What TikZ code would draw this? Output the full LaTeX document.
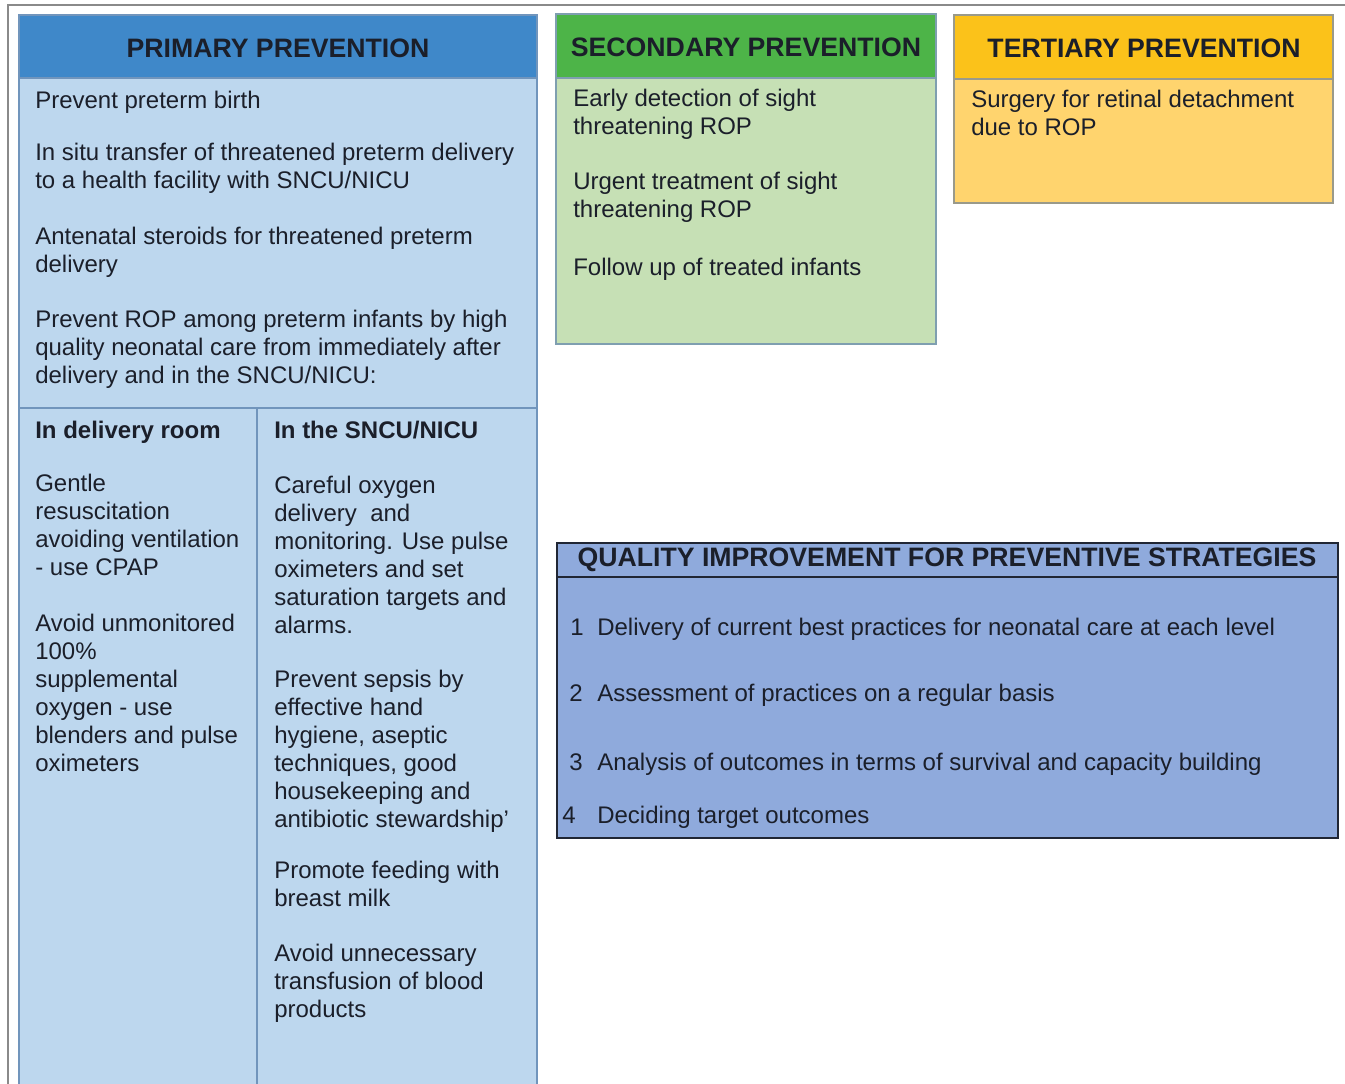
\documentclass[tikz,border=0pt]{standalone}
\usepackage{fontspec}
\setmainfont{Liberation Sans}
\begin{document}
\begin{tikzpicture}[x=0.75pt,y=-0.75pt,
  txt/.style={anchor=north west,yshift=14.7pt,inner sep=0pt,align=left,text=ink,
    font=\fontsize{18}{21}\selectfont,execute at begin node=\strut},
  hdr/.style={inner sep=0pt,text=ink,font=\fontsize{20}{24}\selectfont\bfseries},
  sub/.style={anchor=base west,inner sep=0pt,text=ink,font=\fontsize{18}{21}\selectfont\bfseries},
  panel/.style={line width=1.2pt}]
\definecolor{ink}{HTML}{1B1F2A}
\definecolor{priH}{HTML}{3F88C9}
\definecolor{priB}{HTML}{BDD7EE}
\definecolor{priL}{HTML}{7195BC}
\definecolor{secH}{HTML}{4DB448}
\definecolor{secB}{HTML}{C6E0B5}
\definecolor{secL}{HTML}{7F9FB0}
\definecolor{terH}{HTML}{FBC21A}
\definecolor{terB}{HTML}{FFD46E}
\definecolor{terL}{HTML}{9A9A8A}
\definecolor{quaB}{HTML}{8FAADC}
\definecolor{quaL}{HTML}{202634}
\definecolor{frame}{HTML}{8A8A8A}

\useasboundingbox (0,0) rectangle (1345,1084);
\fill[white] (0,0) rectangle (1345,1084);
% outer frame
\draw[frame,line width=0.8pt] (8,1090) -- (8,5) -- (1350,5);

% ---------- primary prevention ----------
\fill[priB] (19,78) rectangle (537,1090);
\fill[priH] (19,15) rectangle (537,78);
\draw[priL,panel] (19,1090) -- (19,15) -- (537,15) -- (537,1090);
\draw[priL,panel] (19,78) -- (537,78);
\draw[priL,panel] (19,408) -- (537,408);
\draw[priL,panel] (257,408) -- (257,1090);
\node[hdr] (priT) at (278,48) {PRIMARY PREVENTION};
\node[txt] (p1) at (35,108) {Prevent preterm birth};
\node[txt] (p2) at (35,162) {In situ transfer of threatened preterm delivery\\to a health facility with SNCU/NICU};
\node[txt] (p3) at (35,246) {Antenatal steroids for threatened preterm\\delivery};
\node[txt] (p4) at (35,329) {Prevent ROP among preterm infants by high\\quality neonatal care from immediately after\\delivery and in the SNCU/NICU:};

\node[sub] (dr) at (35,438) {In delivery room};
\node[sub] (nc) at (274,438) {In the SNCU/NICU};
\node[txt] (d1) at (35,493) {Gentle\\resuscitation\\avoiding ventilation\\- use CPAP};
\node[txt] (d2) at (35,633) {Avoid unmonitored\\100\%\\supplemental\\oxygen - use\\blenders and pulse\\oximeters};
\node[txt] (n1) at (274,495) {Careful oxygen\\delivery\ \ and\\monitoring. Use pulse\\oximeters and set\\saturation targets and\\alarms.};
\node[txt] (n2) at (274,689) {Prevent sepsis by\\effective hand\\hygiene, aseptic\\techniques, good\\housekeeping and\\antibiotic stewardship’};
\node[txt] (n3) at (274,880) {Promote feeding with\\breast milk};
\node[txt] (n4) at (274,963) {Avoid unnecessary\\transfusion of blood\\products};

% ---------- secondary prevention ----------
\fill[secB] (556,78) rectangle (936,344);
\fill[secH] (556,14) rectangle (936,78);
\draw[secL,panel] (556,14) rectangle (936,344);
\draw[secL,panel] (556,78) -- (936,78);
\node[hdr] (secT) at (746,47) {SECONDARY PREVENTION};
\node[txt] (s1) at (573,108) {Early detection of sight\\threatening ROP};
\node[txt] (s2) at (573,191) {Urgent treatment of sight\\threatening ROP};
\node[txt] (s3) at (573,275) {Follow up of treated infants};

% ---------- tertiary prevention ----------
\fill[terB] (954,79) rectangle (1333,203);
\fill[terH] (954,15) rectangle (1333,79);
\draw[terL,panel] (954,15) rectangle (1333,203);
\draw[terL,panel] (954,79) -- (1333,79);
\node[hdr] (terT) at (1144,48) {TERTIARY PREVENTION};
\node[txt] (t1) at (971,109) {Surgery for retinal detachment\\due to ROP};

% ---------- quality improvement ----------
\fill[quaB] (557,543) rectangle (1338,838);
\draw[quaL,line width=1.5pt] (557,543) rectangle (1338,838);
\draw[quaL,line width=1.5pt] (557,577) -- (1338,577);
\node[hdr] (quaT) at (947,560) {QUALITY IMPROVEMENT FOR PREVENTIVE STRATEGIES};
\node[txt] (q1n) at (570,635) {1};
\node[txt] (q1) at (597,635) {Delivery of current best practices for neonatal care at each level};
\node[txt] (q2n) at (569,701) {2};
\node[txt] (q2) at (597,701) {Assessment of practices on a regular basis};
\node[txt] (q3n) at (569,770) {3};
\node[txt] (q3) at (597,770) {Analysis of outcomes in terms of survival and capacity building};
\node[txt] (q4n) at (562,823) {4};
\node[txt] (q4) at (597,823) {Deciding target outcomes};
\end{tikzpicture}
\end{document}
